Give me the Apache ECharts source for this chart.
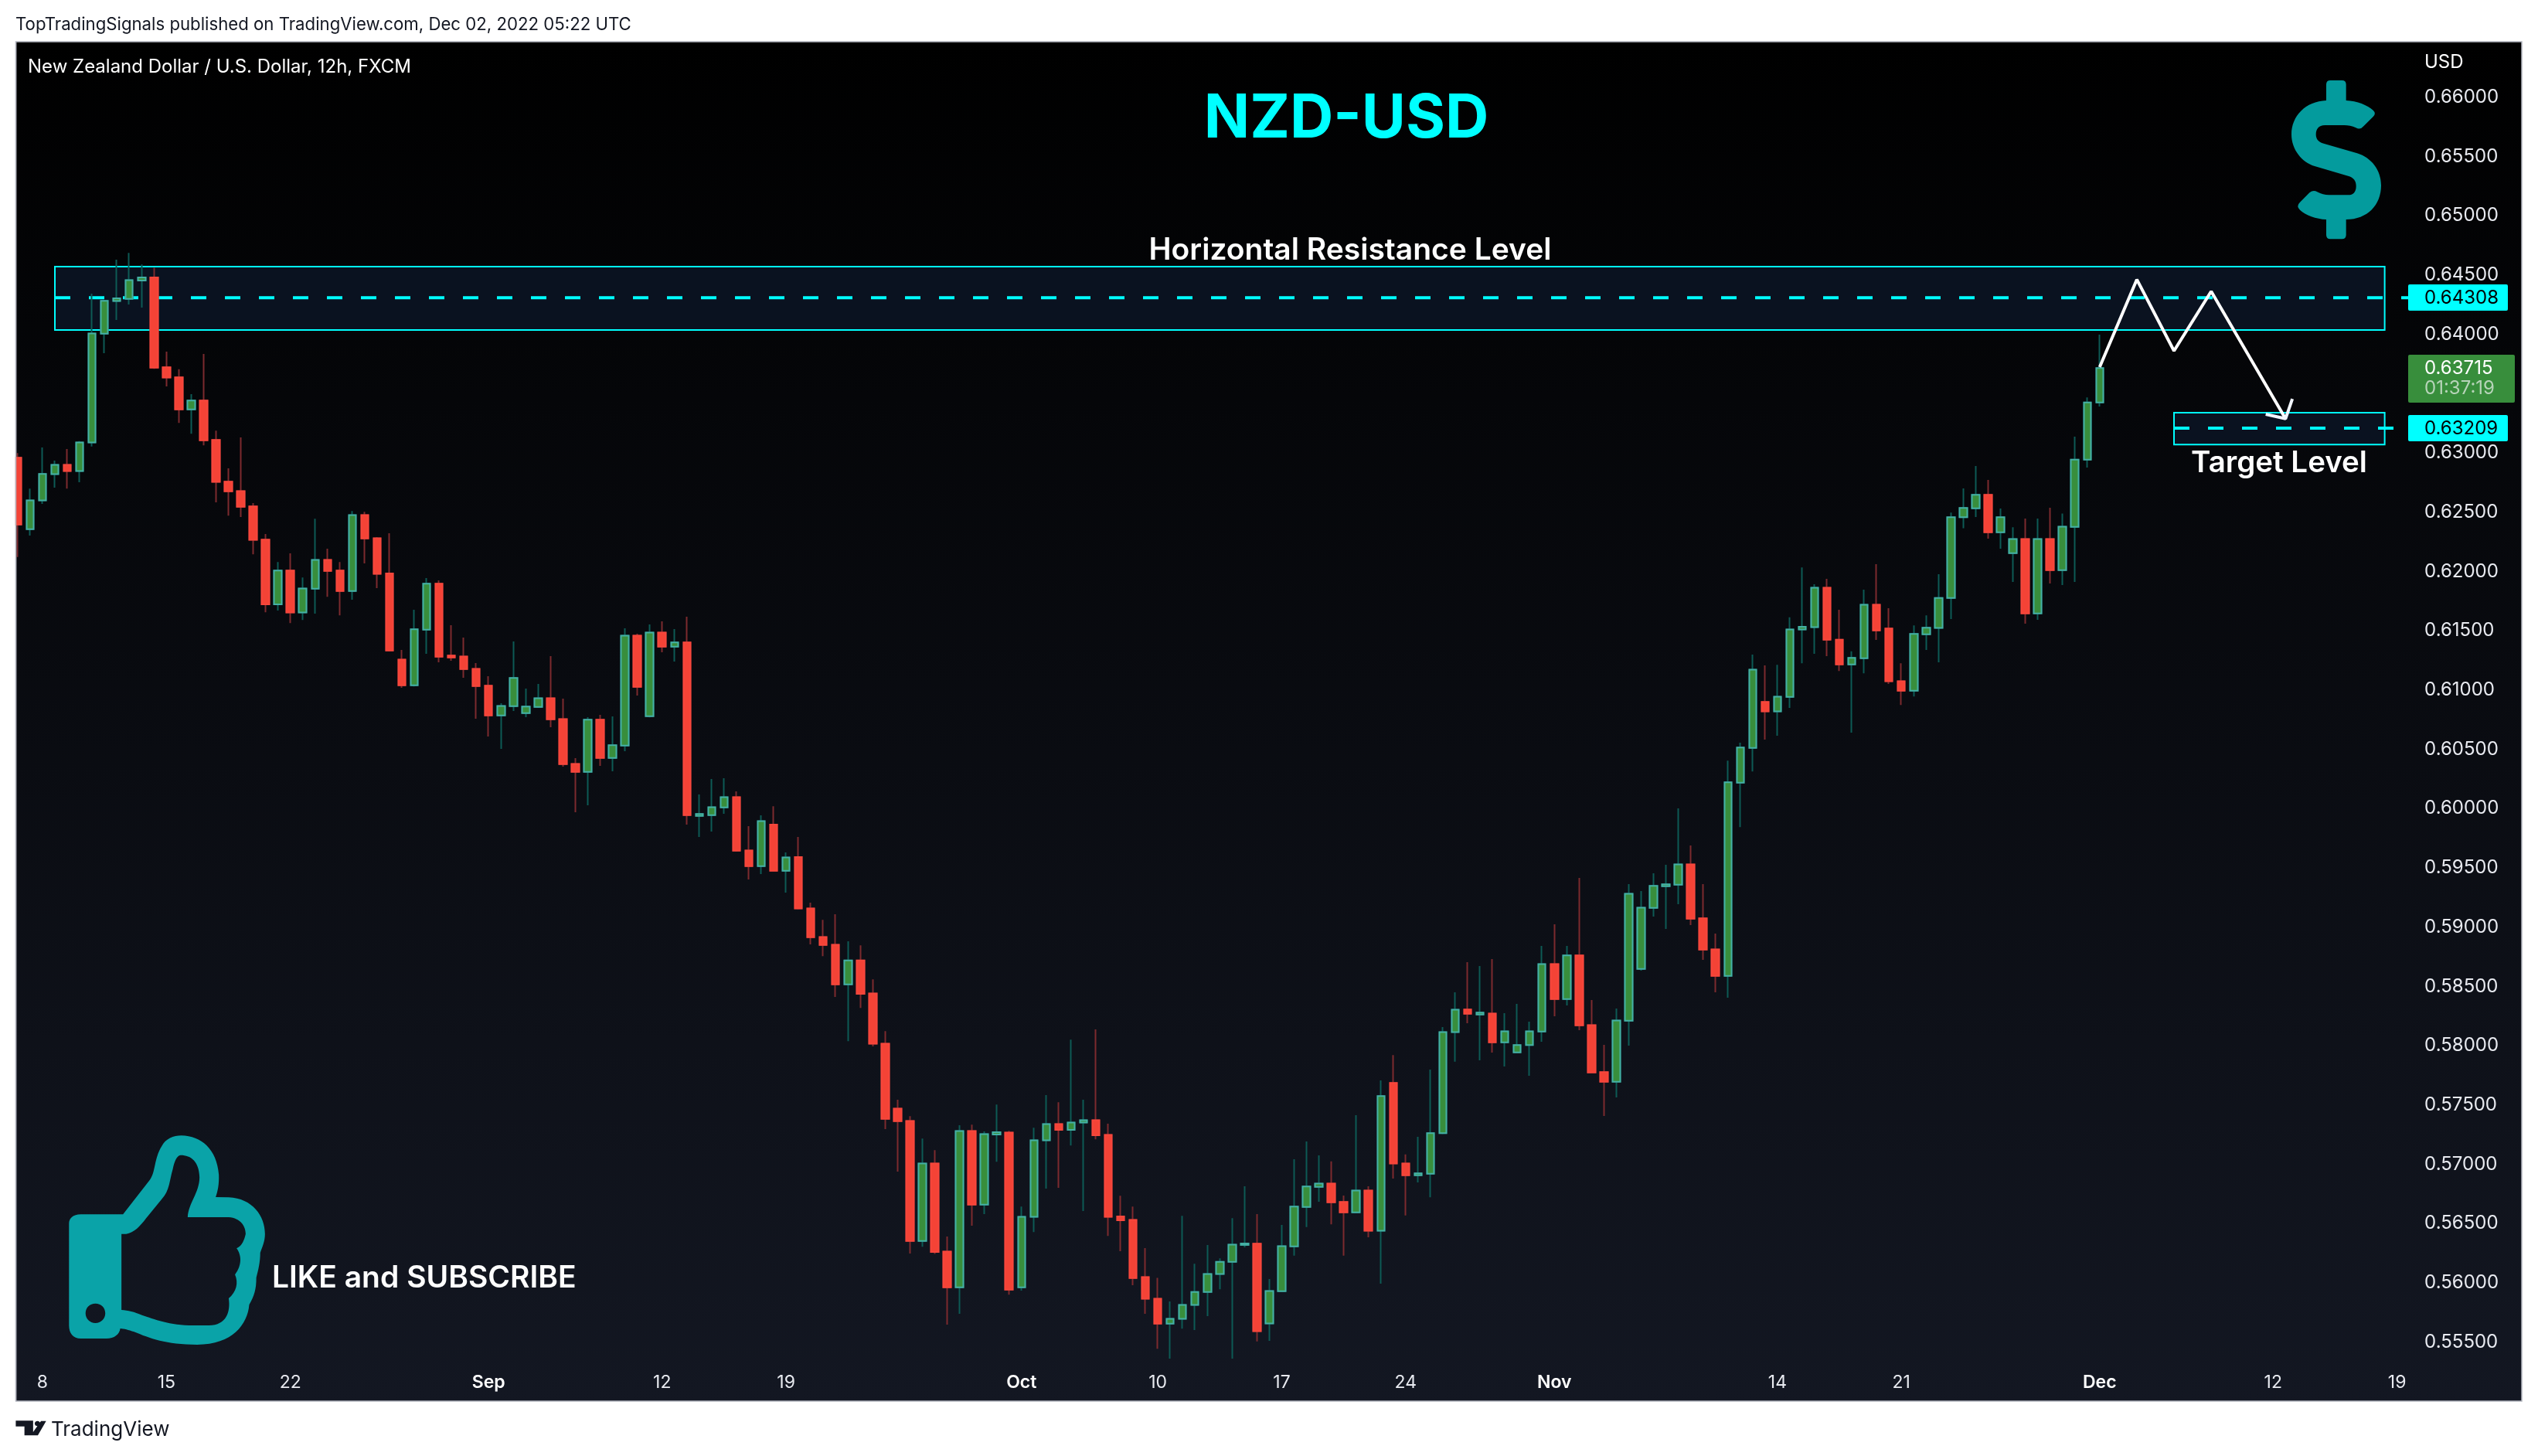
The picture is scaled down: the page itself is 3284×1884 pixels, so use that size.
<!DOCTYPE html>
<html lang="en">
<head>
    <meta charset="UTF-8">
    <title>NZD-USD</title>
    <script src="https://cdn.jsdelivr.net/npm/echarts@6/dist/echarts.min.js"></script>
    <style>
        html, body { width: 100%; height: 100%; margin: 0; padding: 0; background: #fff; }
        #main { width: 3284px; height: 1884px; }
    </style>
</head>
<body>
<div id="main"></div>
<script>
// 12h bars
var opens = [
    .62960,.62357,.62599,.62820,.62899,.62846,.63088,.64005,.64280,.64298,
    .64454,.64480,.63721,.63637,.63367,.63442,.63109,.62757,.62678,.62548,
    .62268,.61723,.62007,.61654,.61854,.62098,.62007,.61835,.62475,.62280,
    .61983,.61257,.61040,.61509,.61896,.61290,.61283,.61179,.61036,.60786,
    .60864,.60805,.60858,.60931,.60755,.60377,.60310,.60749,.60427,.60532,
    .61459,.60779,.61485,.61366,.61401,.59938,.59945,.60010,.60097,.59647,
    .59515,.59865,.59476,.59591,.59157,.58917,.58852,.58518,.58720,.58441,
    .58017,.57469,.57366,.56353,.57007,.56264,.55963,.57280,.56660,.57251,
    .57268,.55963,.56557,.57202,.57340,.57291,.57352,.57372,.57248,.56560,
    .56531,.56049,.55866,.55656,.55696,.55814,.55923,.56075,.56178,.56320,
    .56330,.55658,.55930,.56308,.56641,.56810,.56837,.56683,.56595,.56778,
    .56440,.57686,.57007,.56908,.56921,.57262,.58115,.58305,.58263,.58272,
    .58029,.57944,.58005,.58120,.58689,.58394,.58761,.58174,.57777,.57696,
    .58211,.58648,.59163,.59345,.59358,.59530,.59074,.58813,.58589,.60218,
    .60512,.60899,.60819,.60942,.61510,.61530,.61862,.61425,.61216,.61268,
    .61720,.61518,.61074,.60994,.61470,.61523,.61777,.62457,.62533,.62646,
    .62331,.62155,.62274,.61646,.62274,.62011,.62376,.62943,.63426
];
var closes = [
    .62396,.62599,.62822,.62899,.62846,.63088,.64007,.64282,.64303,.64457,
    .64480,.63719,.63635,.63367,.63442,.63106,.62755,.62676,.62545,.62266,
    .61723,.62007,.61654,.61856,.62098,.62005,.61835,.62475,.62278,.61980,
    .61333,.61040,.61512,.61896,.61281,.61275,.61177,.61033,.60786,.60866,
    .61101,.60860,.60931,.60753,.60375,.60310,.60749,.60427,.60534,.61459,
    .61027,.61485,.61366,.61401,.59945,.59954,.60012,.60097,.59645,.59515,
    .59895,.59476,.59588,.59157,.58915,.58850,.58518,.58720,.58438,.58017,
    .57383,.57363,.56353,.57007,.56261,.55963,.57280,.56660,.57254,.57271,
    .55943,.56557,.57202,.57340,.57291,.57352,.57372,.57245,.56557,.56528,
    .56041,.55866,.55656,.55696,.55814,.55923,.56075,.56178,.56322,.56332,
    .55592,.55932,.56310,.56644,.56813,.56837,.56680,.56595,.56778,.56440,
    .57575,.57007,.56908,.56923,.57262,.58115,.58304,.58270,.58279,.58029,
    .58122,.58005,.58122,.58689,.58394,.58761,.58172,.57774,.57696,.58213,
    .59282,.59165,.59348,.59361,.59530,.59072,.58811,.58589,.60221,.60515,
    .61171,.60819,.60944,.61510,.61533,.61862,.61425,.61216,.61271,.61720,
    .61503,.61074,.60994,.61473,.61525,.61777,.62457,.62535,.62646,.62331,
    .62457,.62274,.61646,.62274,.62011,.62378,.62943,.63426,.63715
];
var lows = [
    .62122,.62303,.62569,.62706,.62699,.62752,.63053,.63840,.64121,.64252,
    .64226,.63709,.63560,.63253,.63162,.63064,.62583,.62471,.62459,.62145,
    .61656,.61670,.61565,.61591,.61644,.61786,.61630,.61761,.62068,.61859,
    .61325,.61018,.61030,.61305,.61233,.61246,.61103,.60758,.60608,.60503,
    .60823,.60771,.60849,.60686,.60353,.59969,.60028,.60360,.60314,.60484,
    .60953,.60770,.61318,.61240,.59865,.59760,.59806,.59956,.59636,.59402,
    .59448,.59470,.59291,.59150,.58855,.58755,.58411,.58039,.58319,.57994,
    .57297,.56939,.56247,.56304,.56244,.55648,.55739,.56482,.56580,.57022,
    .55900,.55934,.56428,.56795,.56801,.57159,.56606,.57211,.56396,.56267,
    .55980,.55739,.55444,.55361,.55613,.55602,.55719,.55946,.55361,.56300,
    .55506,.55511,.55923,.56229,.56470,.56685,.56494,.56229,.56590,.56384,
    .55994,.56879,.56568,.56847,.56722,.57254,.57865,.58189,.57877,.57942,
    .57824,.57937,.57746,.58033,.58248,.58339,.58131,.57770,.57407,.57564,
    .58000,.58633,.59089,.58985,.59193,.59017,.58724,.58450,.58405,.59844,
    .60313,.60582,.60615,.60849,.61226,.61306,.61286,.61161,.60640,.61141,
    .61423,.61051,.60874,.60946,.61338,.61233,.61598,.62365,.62459,.62276,
    .62191,.61911,.61559,.61592,.61898,.61885,.61911,.62876,.63391
];
var highs = [
    .62999,.62699,.63046,.62934,.63032,.63100,.64342,.64291,.64629,.64687,
    .64589,.64561,.63854,.63705,.63495,.63835,.63188,.62869,.63130,.62576,
    .62315,.62080,.62152,.61949,.62445,.62191,.62080,.62510,.62503,.62290,
    .62322,.61338,.61677,.61944,.61924,.61546,.61442,.61227,.61116,.60888,
    .61409,.61012,.61051,.61286,.60927,.60425,.60771,.60790,.60777,.61520,
    .61475,.61553,.61579,.61514,.61618,.60119,.60249,.60256,.60145,.59852,
    .59943,.60020,.59631,.59760,.59207,.59062,.59109,.58880,.58847,.58560,
    .58123,.57544,.57406,.57217,.57119,.56391,.57329,.57334,.57277,.57504,
    .57283,.56643,.57309,.57584,.57524,.58052,.57544,.58138,.57343,.56735,
    .56643,.56293,.56043,.55843,.56566,.56161,.56319,.56207,.56546,.56815,
    .56580,.56033,.56489,.57043,.57193,.57075,.57024,.56737,.57414,.56815,
    .57708,.57921,.57083,.57232,.57799,.58157,.58451,.58704,.58672,.58730,
    .58274,.58352,.58203,.58841,.59024,.58841,.59415,.58385,.58007,.58313,
    .59363,.59304,.59454,.59526,.60002,.59689,.59363,.58946,.60405,.60555,
    .61298,.61208,.61213,.61613,.62034,.61892,.61937,.61677,.61326,.61847,
    .62061,.61690,.61226,.61545,.61630,.61977,.62496,.62700,.62889,.62772,
    .62530,.62372,.62446,.62446,.62537,.62489,.63137,.63467,.63997
];

// time axis: bar slot -> label (the axis runs on past the last bar)
var tickBars = [2, 12, 22, 38, 52, 62, 81, 92, 102, 112, 124, 142, 152, 168, 182, 192];
var tickLabels = ['8', '15', '22', 'Sep', '12', '19', 'Oct', '10', '17', '24', 'Nov', '14', '21', 'Dec', '12', '19'];
var monthLabels = ['Sep', 'Oct', 'Nov', 'Dec'];
var slotCount = 194;

// drawn levels and projection
var resistanceLevel = 0.64308, resistanceTop = 0.64570, resistanceBottom = 0.64037;
var targetLevel = 0.63209, targetTop = 0.63339, targetBottom = 0.63070;
var lastPrice = 0.63715, countdown = '01:37:19';
var pathBars = [168, 171, 174, 177, 183];
var pathPrices = [0.63723, 0.64462, 0.63860, 0.64362, 0.63288];
var arrowBars = [181.4, 183, 183.55];
var arrowPrices = [0.63326, 0.63288, 0.63456];

var categories = [];
for (var i = 0; i < slotCount; i++) {
    var t = tickBars.indexOf(i);
    categories.push(t >= 0 ? tickLabels[t] : 'b' + i);
}
var fullBars = opens.map(function (o, i) { return [o, closes[i], lows[i], highs[i]]; });
// second layer has no wicks, so wick and body border can differ in colour
var bodies = opens.map(function (o, i) { return [o, closes[i], Math.min(o, closes[i]), Math.max(o, closes[i])]; });
function pairs(xs, ys) { return xs.map(function (x, i) { return [x, ys[i]]; }); }

var FONT = 'Inter, "Noto Sans", sans-serif';
var CYAN = '#00ffff';
var TEAL = '#049b9d';

var dollarPath = 'M330,178 Q330,162 346,162 L391,162 Q407,162 407,178 L407,240 C450,242 490,258 512,278 Q525,290 512,303 L475,340 Q462,356 445,346 C430,338 415,336 400,336 L325,336 C300,336 290,352 290,372 C290,390 300,402 320,407 L450,445 C505,462 543,510 543,570 C543,645 490,702 407,702 L407,762 Q407,778 391,778 L346,778 Q330,778 330,762 L330,702 C290,700 250,685 228,665 Q212,650 228,635 L265,598 Q280,585 295,595 C310,603 325,607 340,607 L415,607 C435,607 446,595 446,572 C446,552 435,540 420,535 L285,495 C235,480 195,430 195,372 C195,300 250,243 330,240 Z';
var thumbPath = 'M205,454 L312,454 L380,320 C395,290 390,240 410,190 C420,160 440,148 460,148 C510,150 550,200 555,300 C556,340 552,365 547,387 L580,388 C640,392 672,460 672,530 C672,560 665,580 660,603 C660,640 655,670 650,700 C650,745 645,770 632,805 C628,880 590,960 500,960 C420,960 380,935 340,910 C325,902 315,898 305,897 C303,920 290,936 270,936 L205,936 C185,936 175,915 175,885 L175,490 C175,470 185,454 205,454 Z ' +
    'M308,530 L308,825 C325,827 340,832 360,845 C390,860 430,885 490,885 L530,885 C575,885 585,830 580,780 C600,755 605,720 596,688 C615,650 612,610 600,586 C615,575 620,550 623,530 C623,500 610,468 580,465 L476,465 C478,410 506,370 506,310 C505,250 485,224 458,224 C448,225 442,250 438,280 C430,320 430,365 410,395 L370,470 C355,500 340,525 320,530 Z ' +
    'M217,838 C217,860 228,876 242,876 C256,876 267,860 267,838 C267,815 256,800 242,800 C228,800 217,815 217,838 Z';
var tvLogoPath = 'M40,1255 L84,1255 L84,1312 L62,1312 L62,1277 L40,1277 Z ' +
    'M88,1266 C88,1260 91,1256 95,1256 C99,1256 102,1260 102,1266 C102,1272 99,1276 95,1276 C91,1276 88,1272 88,1266 Z ' +
    'M104,1256 L117,1256 L96,1312 L78,1312 Z';

echarts.graphic.registerShape('dollarIcon', echarts.graphic.extendPath(dollarPath, {}));
echarts.graphic.registerShape('thumbIcon', echarts.graphic.extendPath(thumbPath, {}));
echarts.graphic.registerShape('tvLogo', echarts.graphic.extendPath(tvLogoPath, {}));

function label(text, x, y, font, fill, align) {
    return {
        type: 'text', z: 100, x: x, y: y, silent: true,
        style: { text: text, font: font, fill: fill, textAlign: align || 'left', textVerticalAlign: 'middle' }
    };
}
function box(x, y, w, h, fill) {
    return { type: 'rect', z: 90, silent: true, shape: { x: x, y: y, width: w, height: h, r: 2 }, style: { fill: fill } };
}

var myChart = echarts.init(document.getElementById('main'));
var option = {
    animation: false,
    backgroundColor: '#ffffff',
    grid: { left: 14.9, top: 49, width: 3110.8, height: 1764.4 },
    xAxis: [{
        type: 'category',
        data: categories,
        boundaryGap: true,
        axisLine: { show: false },
        axisTick: { show: false },
        splitLine: { show: false },
        axisLabel: {
            inside: true,
            margin: 13,
            color: '#e8eaf0',
            fontFamily: FONT,
            fontSize: 23,
            interval: function (i) { return tickBars.indexOf(i) >= 0; },
            formatter: function (v) { return monthLabels.indexOf(v) >= 0 ? '{m|' + v + '}' : v; },
            rich: { m: { color: '#ffffff', fontFamily: FONT, fontSize: 23, fontWeight: 600 } }
        }
    }, {
        type: 'value', show: false, min: -0.5, max: slotCount - 0.5, splitLine: { show: false }
    }],
    yAxis: {
        type: 'value',
        position: 'right',
        min: 0.55,
        max: 0.665,
        interval: 0.005,
        axisLine: { show: false },
        axisTick: { show: false },
        splitLine: { show: false },
        axisLabel: {
            margin: 11.4,
            padding: [3, 0, 0, 0],
            align: 'left',
            color: '#e8eaf0',
            fontFamily: FONT,
            fontSize: 24,
            showMinLabel: false,
            showMaxLabel: false,
            formatter: function (v) { return v.toFixed(5); }
        }
    },
    series: [{
        name: 'Resistance',
        type: 'line', xAxisIndex: 1, z: 1, silent: true, symbol: 'none',
        data: pairs([3, 193], [resistanceLevel, resistanceLevel]),
        lineStyle: { color: CYAN, width: 4, type: [20, 24] },
        markArea: {
            silent: true,
            itemStyle: { color: '#0a1220', borderColor: CYAN, borderWidth: 2 },
            data: [[{ coord: [3, resistanceTop] }, { coord: [191, resistanceBottom] }]]
        }
    }, {
        name: 'Target',
        type: 'line', xAxisIndex: 1, z: 1, silent: true, symbol: 'none',
        data: pairs([174, 193], [targetLevel, targetLevel]),
        lineStyle: { color: CYAN, width: 4, type: [20, 24] },
        markArea: {
            silent: true,
            itemStyle: { color: '#0a1220', borderColor: CYAN, borderWidth: 2 },
            data: [[{ coord: [174, targetTop] }, { coord: [191, targetBottom] }]]
        }
    }, {
        name: 'Wicks',
        type: 'candlestick', z: 2, silent: true,
        barWidth: 10,
        data: fullBars,
        itemStyle: { color: '#388e3c', color0: '#f44336', borderColor: '#0d5a55', borderColor0: '#7c2a2e', borderWidth: 2 }
    }, {
        name: 'NZDUSD',
        type: 'candlestick', z: 3, silent: true,
        barWidth: 10,
        data: bodies,
        itemStyle: { color: '#388e3c', color0: '#f44336', borderColor: '#45b0a5', borderColor0: '#f7473c', borderWidth: 2 }
    }, {
        name: 'Projection',
        type: 'line', xAxisIndex: 1, z: 4, silent: true, symbol: 'none',
        data: pairs(pathBars, pathPrices),
        lineStyle: { color: '#ffffff', width: 4 }
    }, {
        name: 'Arrow',
        type: 'line', xAxisIndex: 1, z: 4, silent: true, symbol: 'none',
        data: pairs(arrowBars, arrowPrices),
        lineStyle: { color: '#f2f6ff', width: 4 }
    }],
    graphic: { elements: [
        // chart panel behind everything
        {
            type: 'rect', z: -10, silent: true,
            shape: { x: 20.5, y: 54, width: 3242.5, height: 1759 },
            style: {
                fill: new echarts.graphic.LinearGradient(0, 0, 0, 1, [
                    { offset: 0, color: '#000000' }, { offset: 1, color: '#131722' }
                ]),
                stroke: '#b2b5be', lineWidth: 1.5
            }
        },
        // page margin clips the first bar like the panel does
        { type: 'rect', z: 50, silent: true, shape: { x: 0, y: 54, width: 19.8, height: 1760 }, style: { fill: '#ffffff' } },
        { type: 'line', z: 51, silent: true, shape: { x1: 20.5, y1: 54, x2: 20.5, y2: 1813 }, style: { stroke: '#b2b5be', lineWidth: 1.5 } },

        label('TopTradingSignals published on TradingView.com, Dec 02, 2022 05:22 UTC', 20, 32, '22.2px ' + FONT, '#131722'),
        label('New Zealand Dollar / U.S. Dollar, 12h, FXCM', 36, 87, '24px ' + FONT, '#ffffff'),
        label('USD', 3137, 81, '24px ' + FONT, '#ffffff'),
        label('NZD-USD', 1742, 155, '700 78px ' + FONT, CYAN, 'center'),
        label('Horizontal Resistance Level', 1747, 324, '600 39px ' + FONT, '#ffffff', 'center'),
        label('Target Level', 2949, 599, '600 38.5px ' + FONT, '#ffffff', 'center'),
        label('LIKE and SUBSCRIBE', 352, 1654, '600 39px ' + FONT, '#ffffff'),
        label('TradingView', 66, 1850, '26px ' + FONT, '#131722'),

        // price tags
        box(3116, 368, 129, 34, CYAN),
        label(resistanceLevel.toFixed(5), 3137, 386, '24px ' + FONT, '#000000'),
        box(3116, 459, 138, 62, '#388e3c'),
        label(lastPrice.toFixed(5), 3137, 477, '24px ' + FONT, '#ffffff'),
        label(countdown, 3137, 503, '24px ' + FONT, '#b7d4b9'),
        box(3116, 537, 129, 34, CYAN),
        label(targetLevel.toFixed(5), 3137, 555, '24px ' + FONT, '#000000'),

        // icons, traced in crop coordinates
        { type: 'dollarIcon', z: 80, silent: true, x: 2900, y: 50, scaleX: 1 / 3, scaleY: 1 / 3, style: { fill: TEAL } },
        { type: 'thumbIcon', z: 80, silent: true, x: 0, y: 1420, scaleX: 1 / 1.96, scaleY: 1 / 3, style: { fill: '#0aa3a8' } },
        { type: 'tvLogo', z: 80, silent: true, x: 0, y: 1420, scaleX: 1 / 1.96, scaleY: 1 / 3, style: { fill: '#131722' } }
    ] }
};
myChart.setOption(option);
</script>
</body>
</html>
